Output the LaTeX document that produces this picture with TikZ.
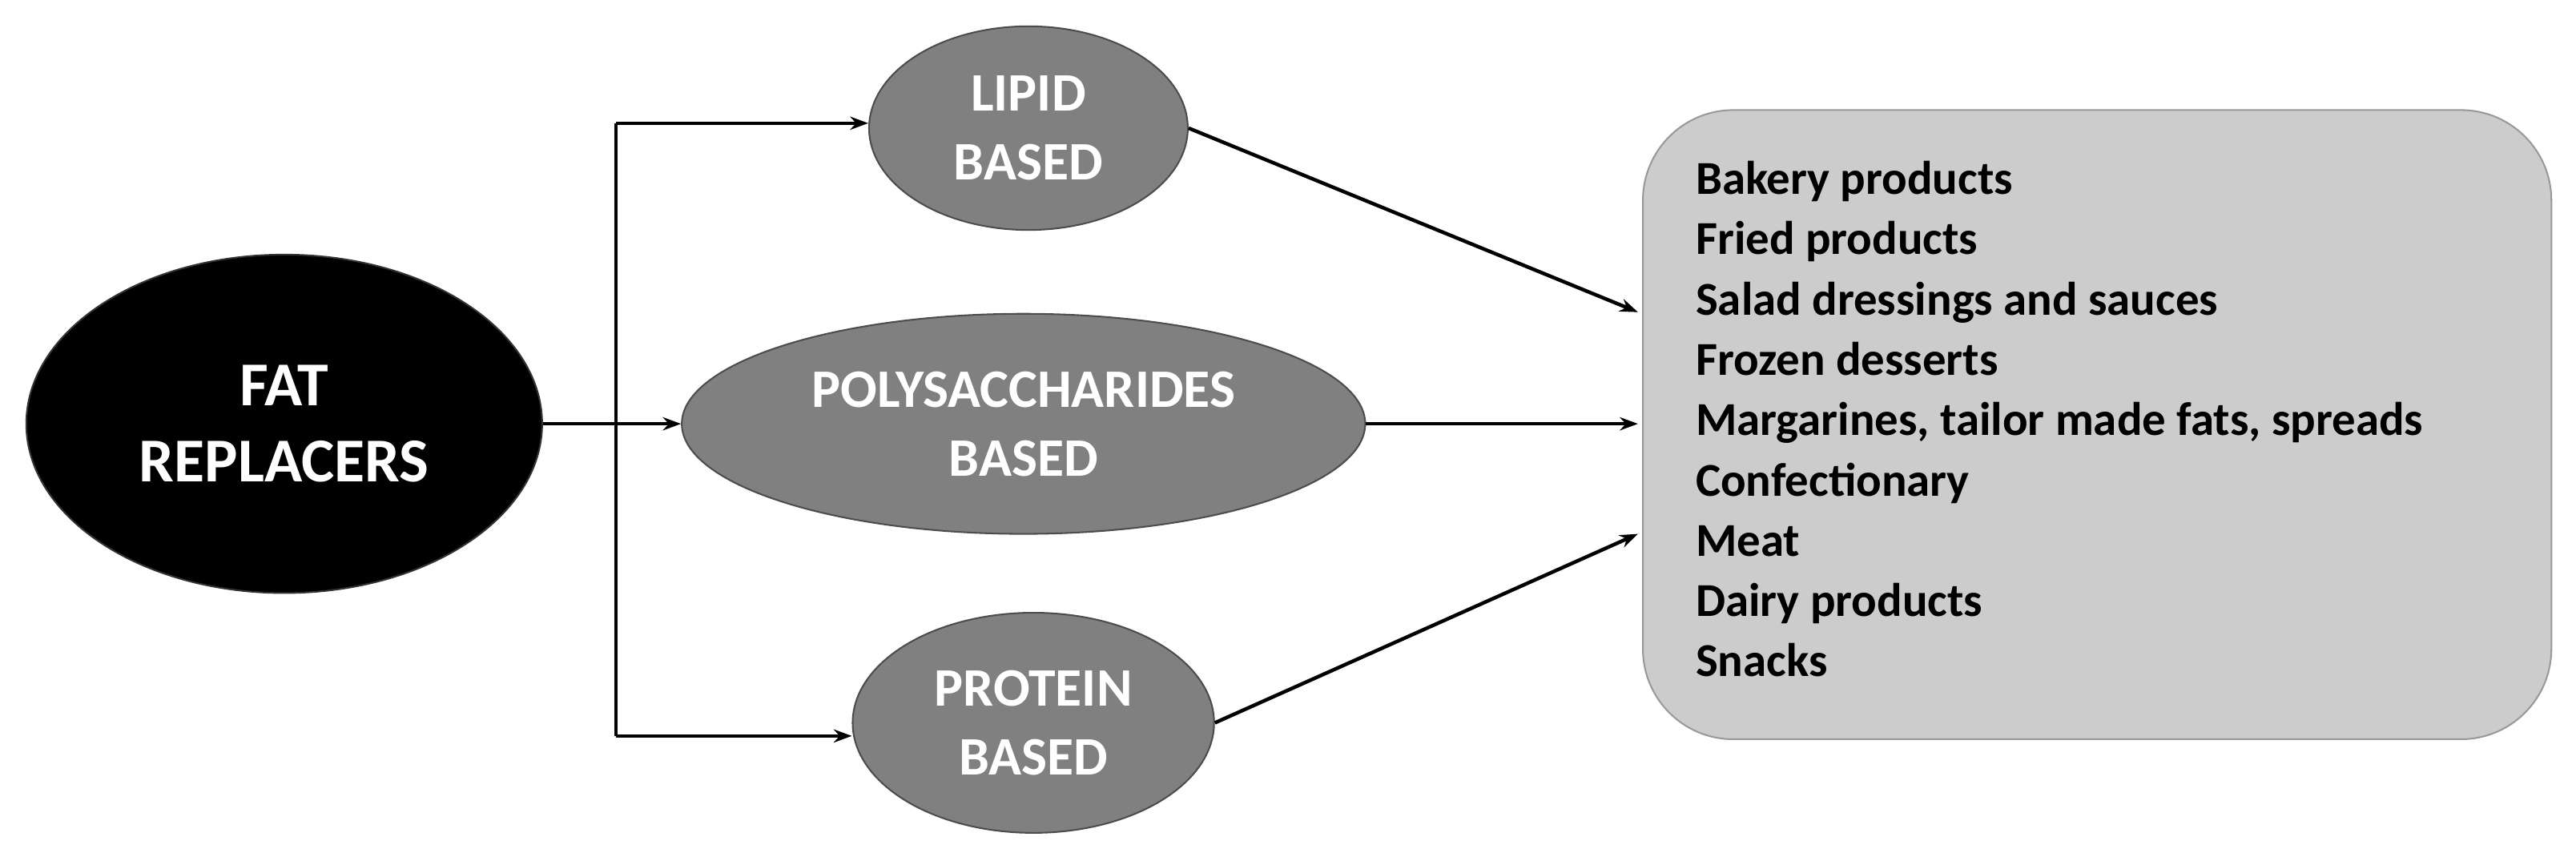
\documentclass[tikz,border=0pt]{standalone}
\usepackage{fontspec}
\setmainfont{Carlito}
\usetikzlibrary{shapes.geometric,arrows.meta}
\begin{document}
\begin{tikzpicture}[x=1pt,y=-1pt,
 ell/.style={ellipse,inner sep=0pt,draw=black!70,line width=1pt,fill=black!50,text=white,font=\fontsize{33}{42}\selectfont\bfseries,align=center},
 arr/.style={line width=2.2pt,-{Stealth[length=11pt,width=8pt]}},
 ln/.style={line width=2.2pt}]
\useasboundingbox (0,0) rectangle (1568,524);
\node[ell,fill=black,draw=black!80,minimum width=314,minimum height=206,font=\fontsize{38}{46}\selectfont\bfseries] (fat) at (173,258) {FAT\\REPLACERS};
\node[ell,minimum width=194,minimum height=124] (lip) at (626,78) {LIPID\\BASED};
\node[ell,minimum width=416,minimum height=134] (poly) at (623,258) {POLYSACCHARIDES\\BASED};
\node[ell,minimum width=220,minimum height=134] (prot) at (629,440) {PROTEIN\\BASED};
\node[draw=black!40,line width=1pt,fill=black!20,rounded corners=55pt,minimum width=553,minimum height=383,inner sep=0pt] (box) at (1276.5,258.5) {};
\node[anchor=north west,align=left,font=\fontsize{28.7}{36.7}\selectfont\bfseries,inner sep=0pt] (list) at (1032,98) {Bakery products\\Fried products\\Salad dressings and sauces\\Frozen desserts\\Margarines, tailor made fats, spreads\\Confectionary\\Meat\\Dairy products\\Snacks};
\coordinate (t) at (375,75);
\coordinate (b) at (375,448);
\draw[arr] (fat.east) -- (poly.west);
\draw[ln] (t) -- (b);
\draw[arr] (t) -- (lip.west |- t);
\draw[arr] (b) -- (prot.west |- b);
\coordinate (e1) at (997,190);
\coordinate (e2) at (997,258);
\coordinate (e3) at (997,325);
\draw[arr] (lip.east) -- (e1);
\draw[arr] (poly.east) -- (e2);
\draw[arr] (prot.east) -- (e3);
\end{tikzpicture}
\end{document}
